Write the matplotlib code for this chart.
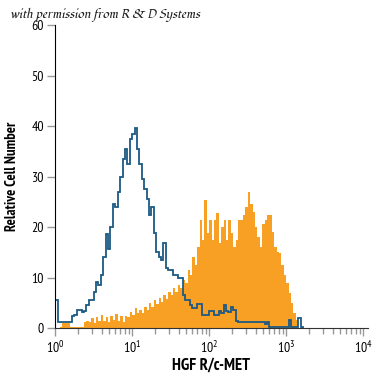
import numpy as np
import matplotlib
matplotlib.use("Agg")
import matplotlib.pyplot as plt
from matplotlib import font_manager
from matplotlib.ticker import LogLocator, FixedLocator, NullFormatter

# channel resolution: 32 channels per decade, starting at 10^0
CHANNELS_PER_DECADE = 32

# isotype control (blue outline), counts per channel
control = [5.5, 1.3, 1.3, 1.3, 1.3, 1.3, 1.3, 2.4, 2.6, 3.6,
           3.6, 3.2, 3.4, 4.5, 5.5, 5.6, 7.2, 9.2, 8.5, 10.5,
           14, 18.6, 15.6, 20, 24.5, 24, 27, 30, 33.5, 35.5,
           32.5, 37.5, 38.5, 39.6, 35.5, 32.5, 29.5, 27.5, 25.5, 22.5,
           24, 18.8, 15, 14, 13.5, 16.8, 12, 11.5, 11.5, 10.5,
           10.5, 10, 10, 6.5, 5.5, 5.5, 4.5, 4, 4, 4.8,
           4.8, 2.6, 2.6, 2.6, 3.4, 3.4, 2.6, 2.6, 3.4, 3,
           4.6, 3.4, 3.2, 4.2, 3.5, 1.5, 1.2, 1.2, 1.2, 1.2,
           1.2, 1.2, 1.2, 1.2, 1.2, 1.2, 1.2, 0.8, 1.3, 0.3,
           0.2, 0.2, 0.2, 0.2, 0.2, 0.2, 0.2, 1.6, 0.2, 0.2,
           0.2, 2.0, 0.3]

# HGF R/c-MET stained cells (orange filled), counts per channel
stained = [0, 0, 0.3, 1, 1, 1, 0.3, 0.3, 0.3, 0.3,
           0.3, 0.3, 1.2, 1.5, 1.2, 2, 1, 2.2, 1.5, 2.6,
           1.4, 2.2, 1.2, 2.5, 1.6, 2.8, 1.5, 2.4, 1.2, 2.5,
           2.2, 3.2, 2.6, 4.0, 3.0, 3.5, 3, 4.2, 3.5, 5,
           4.2, 5.5, 4.8, 6, 5.2, 6.5, 5.8, 7.2, 6.5, 8,
           7.2, 8.5, 8, 9.5, 9, 11.5, 10.5, 14, 12.5, 16,
           21.4, 17.5, 25.3, 18.8, 21.4, 17.4, 21.4, 22.8, 16.8, 20,
           21.4, 17.4, 21.4, 18.8, 16, 17.5, 21.4, 21.4, 22.5, 24,
           27, 24.5, 23, 20, 18, 16, 20.7, 21.4, 22.5, 22.4,
           19, 16, 15, 14.8, 12.5, 10.5, 9, 7, 5, 3,
           1.6, 0, 0]

y_ticks = [0, 10, 20, 30, 40, 50, 60]
x_decades = [1, 10, 100, 1000, 10000]
x_labels = [r"$10^0$", r"$10^1$", r"$10^2$", r"$10^3$", r"$10^4$"]

installed = {f.name for f in font_manager.fontManager.ttflist}


def pick(candidates):
    for name in candidates:
        if name in installed:
            return name
    return "DejaVu Sans"


narrow = pick(["PT Sans Narrow", "Liberation Sans Narrow", "Roboto Condensed",
               "Archivo Narrow", "Fira Sans Condensed", "Open Sans Condensed",
               "Asap Condensed", "IBM Plex Sans Condensed"])
script = pick(["Fondamento", "Marck Script", "Italianno", "Liberation Serif"])

plt.rcParams["font.family"] = [narrow, "DejaVu Sans"]
plt.rcParams["mathtext.fontset"] = "custom"
plt.rcParams["mathtext.rm"] = narrow

n = len(control)
edges = 10 ** (np.arange(n + 1) / CHANNELS_PER_DECADE)

fig = plt.figure(figsize=(3.75, 3.75), dpi=100)
ax = fig.add_axes([0.147, 0.125, 0.834, 0.808])

ax.stairs(stained, edges, fill=True, color="#f7a023", linewidth=0)
ax.stairs(control, edges, color="#1d5a84", linewidth=1.3, baseline=0)

ax.set_xscale("log")
ax.set_xlim(1, 10 ** 4.06)
ax.set_ylim(0, 60)

for side in ("top", "right"):
    ax.spines[side].set_visible(False)
ax.spines["left"].set_color("black")
ax.spines["bottom"].set_color("#333333")

ax.set_yticks(y_ticks)
ax.xaxis.set_major_locator(FixedLocator(x_decades))
ax.set_xticklabels(x_labels)
ax.xaxis.set_minor_locator(LogLocator(base=10, subs=np.arange(2, 10)))
ax.xaxis.set_minor_formatter(NullFormatter())
ax.tick_params(axis="y", direction="out", length=6, width=1, color="#999999",
               labelsize=10, pad=2)
ax.tick_params(axis="x", which="major", direction="out", length=6, width=1,
               color="#999999", labelsize=10, pad=2)
ax.tick_params(axis="x", which="minor", direction="out", length=4, width=1,
               color="#999999")

ax.set_ylabel("Relative Cell Number", fontsize=10.5, fontweight="bold", labelpad=9)
ax.set_xlabel("HGF R/c-MET", fontsize=12, fontweight="bold", labelpad=1)

fig.text(0.027, 0.952, "with permission from R & D Systems", fontsize=8.5,
         style="italic", family=[script, "DejaVu Serif"], color="#222222")

fig.savefig("out.png", dpi=100)
